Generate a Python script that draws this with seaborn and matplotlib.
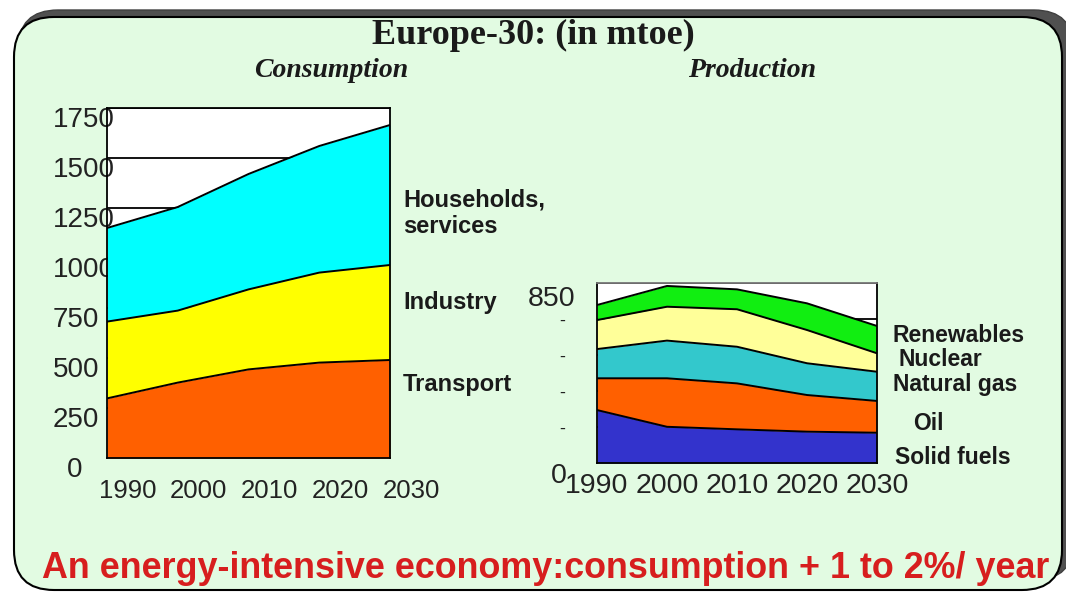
import numpy as np
import pandas as pd
import matplotlib
matplotlib.use("Agg")
import matplotlib.pyplot as plt
import seaborn as sns
from matplotlib.patches import FancyBboxPatch
from matplotlib.transforms import ScaledTranslation

# ---------------- data ----------------
years = [1990, 2000, 2010, 2020, 2030]

cons_labels = ["Transport", "Industry", "Households,\nservices"]
transport = [298, 377, 443, 477, 490]
industry = [384, 360, 400, 450, 475]
households = [468, 518, 577, 633, 700]
cons_yticks = [0, 250, 500, 750, 1000, 1250, 1500, 1750]

prod_labels = ["Solid fuels", "Oil", "Natural gas", "Nuclear", "Renewables"]
solid_fuels = [250, 171, 159, 148, 143]
oil = [150, 229, 217, 173, 150]
natural_gas = [138, 178, 173, 150, 138]
nuclear = [137, 160, 177, 157, 87]
renewables = [71, 98, 94, 126, 129]
prod_yticks = [0, 170, 340, 510, 680, 850]
prod_yticklabels = ["0", "-", "-", "-", "-", "850"]

title = "Europe-30: (in mtoe)"
sub_left = "Consumption"
sub_right = "Production"
footer = "An energy-intensive economy:consumption + 1 to 2%/ year"

# ---------------- style ----------------
sns.set_style("white")
plt.rcParams["font.family"] = ["Liberation Sans", "DejaVu Sans"]

W, H = 1066, 592
fig = plt.figure(figsize=(W / 100, H / 100), dpi=100)
fig.patch.set_facecolor("white")

# background panel (pixel coordinates)
bg = fig.add_axes([0, 0, 1, 1], zorder=0)
bg.set_xlim(0, W)
bg.set_ylim(H, 0)
bg.axis("off")
shadow = FancyBboxPatch((18, 10), 1056, 570, boxstyle="round,pad=0,rounding_size=40",
                        facecolor="#505050", edgecolor="#404040", lw=1)
panel = FancyBboxPatch((14, 17), 1048, 573, boxstyle="round,pad=0,rounding_size=40",
                       facecolor="#E2FBE2", edgecolor="black", lw=1.5)
bg.add_patch(shadow)
bg.add_patch(panel)

bg.text(533, 35, title, family=["Liberation Serif"], weight="bold", fontsize=26,
        ha="center", va="center", color="#1a1a1a")
bg.text(331, 77, sub_left, family=["Liberation Serif"], weight="bold", style="italic",
        fontsize=20, ha="center", va="baseline", color="#1a1a1a")
bg.text(752, 77, sub_right, family=["Liberation Serif"], weight="bold", style="italic",
        fontsize=20, ha="center", va="baseline", color="#1a1a1a")
bg.text(546, 578, footer, weight="bold", fontsize=25.8, ha="center", va="baseline",
        color="#D71E1E")

tick_color = "#222222"


def long_form(yrs, layers):
    cum = np.cumsum(np.array(layers, dtype=float), axis=0)
    rows = []
    for i, row in enumerate(cum):
        for x, v in zip(yrs, row):
            rows.append({"year": x, "value": v, "layer": i})
    return pd.DataFrame(rows)


def style_axes(ax):
    ax.set_facecolor("white")
    for s in ax.spines.values():
        s.set_visible(True)
        s.set_color("black")
        s.set_linewidth(1.3)
    ax.set_axisbelow(True)
    ax.yaxis.grid(True, color="black", lw=1.3)
    ax.xaxis.grid(False)
    ax.set_xlabel("")
    ax.set_ylabel("")


# ---------------- consumption ----------------
axL = fig.add_axes([107 / W, (H - 458) / H, 283 / W, 350 / H], zorder=2)
cons_layers = [transport, industry, households]
axL.stackplot(years, *cons_layers, colors=["#FF6000", "#FFFF00", "#00FFFF"],
              linewidth=0, zorder=2)
sns.lineplot(data=long_form(years, cons_layers), x="year", y="value", units="layer",
             estimator=None, color="black", lw=1.4, ax=axL, legend=False, zorder=3)
axL.set_xlim(1990, 2030)
axL.set_ylim(0, 1750)
axL.set_xticks(years)
axL.set_xticklabels([str(y) for y in years])
axL.set_yticks(cons_yticks)
axL.set_yticklabels([str(v) for v in cons_yticks])
style_axes(axL)
axL.tick_params(axis="x", direction="out", length=4, width=1.2, color="black",
                pad=11, labelsize=18.5, labelcolor=tick_color)
axL.tick_params(axis="y", length=0, pad=0, labelsize=20, labelcolor=tick_color)
for lab in axL.get_xticklabels():
    lab.set_transform(lab.get_transform() + ScaledTranslation(0.21, 0, fig.dpi_scale_trans))
for i, lab in enumerate(axL.get_yticklabels()):
    lab.set_ha("left")
    dx = -0.54 + (0.14 if i == 0 else 0)
    lab.set_transform(lab.get_transform() + ScaledTranslation(dx, -0.09, fig.dpi_scale_trans))

cons_label_pos = [(403, 385), (403, 302), (403, 213)]
for text, (x, y) in zip(cons_labels, cons_label_pos):
    bg.text(x, y, text, weight="bold", fontsize=17, ha="left", va="center",
            color="#1a1a1a", linespacing=1.2)

# ---------------- production ----------------
axR = fig.add_axes([597 / W, (H - 463) / H, 280 / W, 180 / H], zorder=2)
prod_layers = [solid_fuels, oil, natural_gas, nuclear, renewables]
axR.stackplot(years, *prod_layers,
              colors=["#3333CC", "#FF6000", "#33C8CC", "#FFFF99", "#11EE11"],
              linewidth=0, zorder=2)
sns.lineplot(data=long_form(years, prod_layers), x="year", y="value", units="layer",
             estimator=None, color="black", lw=1.4, ax=axR, legend=False, zorder=3)
axR.set_xlim(1990, 2030)
axR.set_ylim(0, 850)
axR.set_xticks(years)
axR.set_xticklabels([str(y) for y in years])
axR.set_yticks(prod_yticks)
axR.set_yticklabels(prod_yticklabels)
style_axes(axR)
axR.spines["top"].set_color("#777777")
axR.tick_params(axis="x", direction="out", length=4, width=1.2, color="black",
                pad=3, labelsize=20.5, labelcolor=tick_color)
axR.tick_params(axis="y", length=0, pad=0, labelsize=20.5, labelcolor=tick_color)
for lab, txt in zip(axR.get_yticklabels(), prod_yticklabels):
    lab.set_ha("right")
    if txt == "850":
        off = (-0.22, -0.13)
    elif txt == "0":
        off = (-0.30, -0.10)
    else:
        off = (-0.32, 0.0)
        lab.set_fontsize(13)
    lab.set_transform(lab.get_transform() + ScaledTranslation(off[0], off[1], fig.dpi_scale_trans))

prod_label_pos = [(895, 458), (913, 423), (893, 385), (898, 359), (893, 336)]
for text, (x, y) in zip(prod_labels, prod_label_pos):
    bg.text(x, y, text, weight="bold", fontsize=16.5, ha="left", va="center",
            color="#1a1a1a")

fig.savefig("out.png", dpi=100)
